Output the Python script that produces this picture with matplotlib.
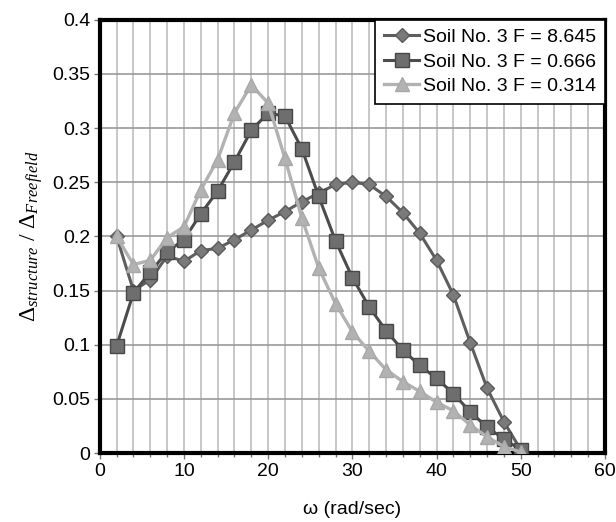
import numpy as np
import matplotlib.pyplot as plt
from matplotlib.ticker import MultipleLocator, FixedLocator

# omega (rad/sec)
omega = [2, 4, 6, 8, 10, 12, 14, 16, 18, 20, 22, 24, 26,
         28, 30, 32, 34, 36, 38, 40, 42, 44, 46, 48, 50]

# Soil No. 3, F = 8.645
f_8645 = [0.200, 0.150, 0.160, 0.182, 0.177, 0.187, 0.189, 0.197, 0.206, 0.215,
          0.223, 0.232, 0.240, 0.248, 0.250, 0.248, 0.237, 0.222, 0.203, 0.178,
          0.146, 0.102, 0.060, 0.029, 0.003]
# Soil No. 3, F = 0.666
f_0666 = [0.099, 0.148, 0.167, 0.186, 0.197, 0.221, 0.242, 0.269, 0.298, 0.314,
          0.311, 0.281, 0.237, 0.196, 0.162, 0.135, 0.113, 0.095, 0.081, 0.069,
          0.055, 0.038, 0.024, 0.013, 0.003]
# Soil No. 3, F = 0.314
f_0314 = [0.200, 0.174, 0.178, 0.199, 0.209, 0.243, 0.271, 0.314, 0.340, 0.323,
          0.272, 0.217, 0.171, 0.138, 0.112, 0.094, 0.077, 0.066, 0.057, 0.047,
          0.039, 0.026, 0.015, 0.006, 0.001]

labels = ["Soil No. 3 F = 8.645", "Soil No. 3 F = 0.666", "Soil No. 3 F = 0.314"]
yticks = [0, 0.05, 0.1, 0.15, 0.2, 0.25, 0.3, 0.35, 0.4]
yticklabels = ["0", "0.05", "0.1", "0.15", "0.2", "0.25", "0.3", "0.35", "0.4"]

plt.rcParams['font.family'] = ['Liberation Sans', 'DejaVu Sans']
plt.rcParams['mathtext.fontset'] = 'custom'
plt.rcParams['mathtext.it'] = 'Liberation Serif:italic'
plt.rcParams['mathtext.rm'] = 'Liberation Serif'
plt.rcParams['mathtext.cal'] = 'Liberation Serif:italic'

fig = plt.figure(figsize=(6.16, 5.22), dpi=100)
ax = fig.add_axes([0.162, 0.132, 0.820, 0.830])

ax.plot(omega, f_8645, color="#5e5e5e", lw=2.2, marker="D", ms=7,
        mfc="#7a7a7a", mec="#5a5a5a", label=labels[0], zorder=3)
ax.plot(omega, f_0666, color="#4c4c4c", lw=2.2, marker="s", ms=9.5,
        mfc="#6e6e6e", mec="#474747", label=labels[1], zorder=3)
ax.plot(omega, f_0314, color="#b2b2b2", lw=2.4, marker="^", ms=9.5,
        mfc="#b2b2b2", mec="#a8a8a8", label=labels[2], zorder=4)

ax.set_xlim(0, 60)
ax.set_ylim(0, 0.4)
ax.xaxis.set_major_locator(MultipleLocator(10))
ax.xaxis.set_minor_locator(MultipleLocator(2))
ax.yaxis.set_major_locator(FixedLocator(yticks))
ax.set_yticklabels(yticklabels)

ax.grid(True, which="major", axis="y", color="#9a9a9a", lw=1.2)
ax.grid(True, which="both", axis="x", color="#bdbdbd", lw=1.2)
ax.set_axisbelow(True)

for s in ax.spines.values():
    s.set_linewidth(3)
    s.set_color("black")

ax.tick_params(axis="both", which="major", direction="out", length=4, width=1,
               color="#777777", labelsize=14, pad=3)
ax.tick_params(axis="x", which="minor", direction="out", length=3, width=1,
               color="#777777")

ax.set_xlabel("ω (rad/sec)", fontsize=14, labelpad=15)
ax.set_ylabel(r"$\mathit{\Delta}_{structure}\ /\ \mathit{\Delta}_{Freefield}$",
              fontsize=17, labelpad=5)

leg = ax.legend(loc="upper right", fontsize=14, frameon=True, fancybox=False,
                edgecolor="black", framealpha=1, borderaxespad=0,
                handlelength=1.8, handletextpad=0.2, borderpad=0.45,
                labelspacing=0.35)
leg.get_frame().set_linewidth(1.2)

fig.savefig("out.png", dpi=100)
